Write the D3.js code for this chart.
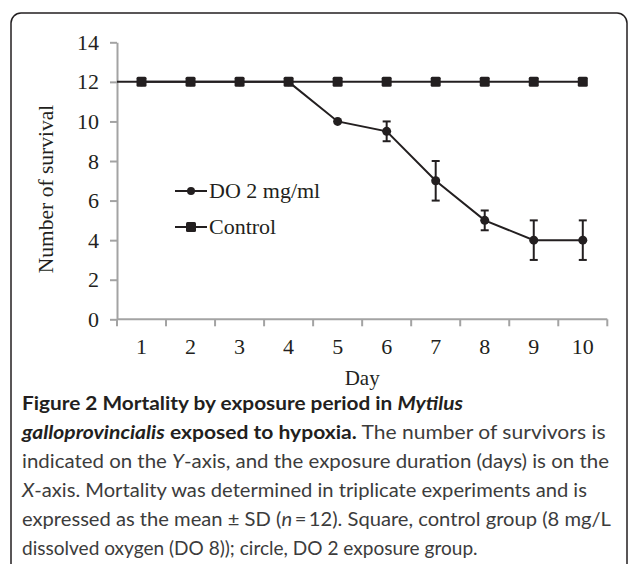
<!DOCTYPE html>
<html>
<head>
<meta charset="utf-8">
<script src="https://cdn.jsdelivr.net/npm/d3@7"></script>
<style>
  body { margin: 0; background: #fff; }
  svg { display: block; }
</style>
</head>
<body>
<div id="plot"></div>
<script>

var days = [1, 2, 3, 4, 5, 6, 7, 8, 9, 10];
var controlValues = [12, 12, 12, 12, 12, 12, 12, 12, 12, 12];
var doValues = [12, 12, 12, 12, 10, 9.5, 7, 5, 4, 4];
var doErrors = [0, 0, 0, 0, 0, 0.5, 1, 0.5, 1, 1];
var yTicks = [0, 2, 4, 6, 8, 10, 12, 14];
var legendLabels = ["DO 2 mg/ml", "Control"];

// caption lines: [text, weight, style]
var captionLines = [
    [["Figure 2 Mortality by exposure period in ", "bold", "normal"], ["Mytilus", "bold", "italic"]],
    [["galloprovincialis", "bold", "italic"], [" exposed to hypoxia.", "bold", "normal"], [" The number of survivors is", "normal", "normal"]],
    [["indicated on the ", "normal", "normal"], ["Y", "normal", "italic"], ["-axis, and the exposure duration (days) is on the", "normal", "normal"]],
    [["X", "normal", "italic"], ["-axis. Mortality was determined in triplicate experiments and is", "normal", "normal"]],
    [["expressed as the mean \u00b1 SD (", "normal", "normal"], ["n", "normal", "italic"], ["\u2009=\u200912). Square, control group (8 mg/L", "normal", "normal"]],
    [["dissolved oxygen (DO 8)); circle, DO 2 exposure group.", "normal", "normal"]]
];
var captionEnds = [463, 606, 609, 587, 611, 478];

var ink = "#231f20";
var axisGrey = "#a3a3a3";
var serif = "'Liberation Serif', 'Times New Roman', serif";

var svg = d3.select("#plot").append("svg").attr("width", 628).attr("height", 564);

svg.append("rect")
    .attr("width", 628).attr("height", 564)
    .attr("fill", "#fff");

// frame
svg.append("rect")
    .attr("x", 11).attr("y", 13)
    .attr("width", 616).attr("height", 620)
    .attr("rx", 10)
    .attr("fill", "none")
    .attr("stroke", ink)
    .attr("stroke-width", 1.5);

var x = d3.scaleBand().domain(days).range([117, 607.3]);
var y = d3.scaleLinear().domain([0, 14]).range([319.3, 42.3]);
var cx = function(d) { return x(d) + x.bandwidth() / 2; };

// y axis
var yAxis = svg.append("g")
    .attr("transform", "translate(" + x.range()[0] + ",0)")
    .call(d3.axisLeft(y).tickValues(yTicks).tickSize(7).tickPadding(11).tickSizeOuter(0));
yAxis.select(".domain").attr("stroke", axisGrey).attr("stroke-width", 2);
yAxis.selectAll(".tick line").attr("stroke", axisGrey).attr("stroke-width", 2);
yAxis.selectAll(".tick text")
    .attr("font-family", serif).attr("font-size", "22px").attr("fill", ink);

// x axis: ticks on band edges, labels in band centres
var xAxis = svg.append("g")
    .attr("transform", "translate(0," + y(0) + ")");
xAxis.append("line")
    .attr("x1", x.range()[0]).attr("x2", x.range()[1])
    .attr("stroke", axisGrey).attr("stroke-width", 2);
var edges = days.map(function(d) { return x(d); }).concat([x.range()[1]]);
xAxis.selectAll(".edge").data(edges).enter().append("line")
    .attr("class", "edge")
    .attr("x1", function(d) { return d; }).attr("x2", function(d) { return d; })
    .attr("y1", 0).attr("y2", 7)
    .attr("stroke", axisGrey).attr("stroke-width", 2);
xAxis.selectAll(".lbl").data(days).enter().append("text")
    .attr("class", "lbl")
    .attr("x", cx).attr("y", 35)
    .attr("text-anchor", "middle")
    .attr("font-family", serif).attr("font-size", "22px").attr("fill", ink)
    .text(function(d) { return d; });

svg.append("text")
    .attr("x", (x.range()[0] + x.range()[1]) / 2).attr("y", 385)
    .attr("text-anchor", "middle")
    .attr("font-family", serif).attr("font-size", "21px").attr("fill", ink)
    .text("Day");

svg.append("text")
    .attr("transform", "translate(53,189) rotate(-90)")
    .attr("text-anchor", "middle")
    .attr("font-family", serif).attr("font-size", "21.5px").attr("fill", ink)
    .text("Number of survival");

// control line, starts at the y axis
var controlPts = [[x.range()[0], y(controlValues[0])]].concat(
    days.map(function(d, i) { return [cx(d), y(controlValues[i])]; }));
svg.append("path")
    .attr("d", d3.line()(controlPts))
    .attr("fill", "none").attr("stroke", ink).attr("stroke-width", 2);

// DO line
var doLine = d3.line()
    .x(function(d, i) { return cx(days[i]); })
    .y(function(d) { return y(d); });
svg.append("path")
    .attr("d", doLine(doValues))
    .attr("fill", "none").attr("stroke", ink).attr("stroke-width", 2);

// error bars
var eb = svg.append("g").attr("stroke", ink).attr("stroke-width", 2);
days.forEach(function(d, i) {
    if (!doErrors[i]) return;
    var top = y(doValues[i] + doErrors[i]), bot = y(doValues[i] - doErrors[i]);
    eb.append("line").attr("x1", cx(d)).attr("x2", cx(d)).attr("y1", top).attr("y2", bot);
    eb.append("line").attr("x1", cx(d) - 4).attr("x2", cx(d) + 4).attr("y1", top).attr("y2", top);
    eb.append("line").attr("x1", cx(d) - 4).attr("x2", cx(d) + 4).attr("y1", bot).attr("y2", bot);
});

svg.selectAll(".sq").data(controlValues).enter().append("rect")
    .attr("class", "sq")
    .attr("x", function(d, i) { return cx(days[i]) - 5; })
    .attr("y", function(d) { return y(d) - 5; })
    .attr("width", 10).attr("height", 10).attr("rx", 1.5)
    .attr("fill", ink);

svg.selectAll(".dot").data(doValues).enter().append("circle")
    .attr("class", "dot")
    .attr("cx", function(d, i) { return cx(days[i]); })
    .attr("cy", function(d) { return y(d); })
    .attr("r", 4.5)
    .attr("fill", ink);

// legend
var legend = svg.selectAll(".leg").data(legendLabels).enter().append("g")
    .attr("class", "leg")
    .attr("transform", function(d, i) { return "translate(175," + (191 + i * 36) + ")"; });
legend.append("line")
    .attr("x1", 0).attr("x2", 32)
    .attr("stroke", ink).attr("stroke-width", 2);
legend.each(function(d, i) {
    var g = d3.select(this);
    if (i === 0) g.append("circle").attr("cx", 16).attr("r", 4).attr("fill", ink);
    else g.append("rect").attr("x", 11).attr("y", -5).attr("width", 10).attr("height", 10).attr("rx", 1.5).attr("fill", ink);
});
legend.append("text")
    .attr("x", 34).attr("y", 7)
    .attr("font-family", serif).attr("font-size", "22px").attr("fill", ink)
    .text(function(d) { return d; });

// caption
var cap = svg.append("g")
    .attr("font-family", "Lato, 'Open Sans', sans-serif")
    .attr("font-size", "19.5px");
captionLines.forEach(function(parts, i) {
    var t = cap.append("text").attr("x", 0).attr("y", 0);
    parts.forEach(function(p) {
        t.append("tspan")
            .attr("font-weight", p[1])
            .attr("font-style", p[2])
            .attr("fill", p[1] === "bold" ? ink : "#3c3c3c")
            .text(p[0]);
    });
    var w = t.node().getComputedTextLength();
    var s = (captionEnds[i] - 22) / w;
    t.attr("transform", "translate(22," + (410 + i * 29) + ") scale(" + s + ",1)");
});

</script>
</body>
</html>
